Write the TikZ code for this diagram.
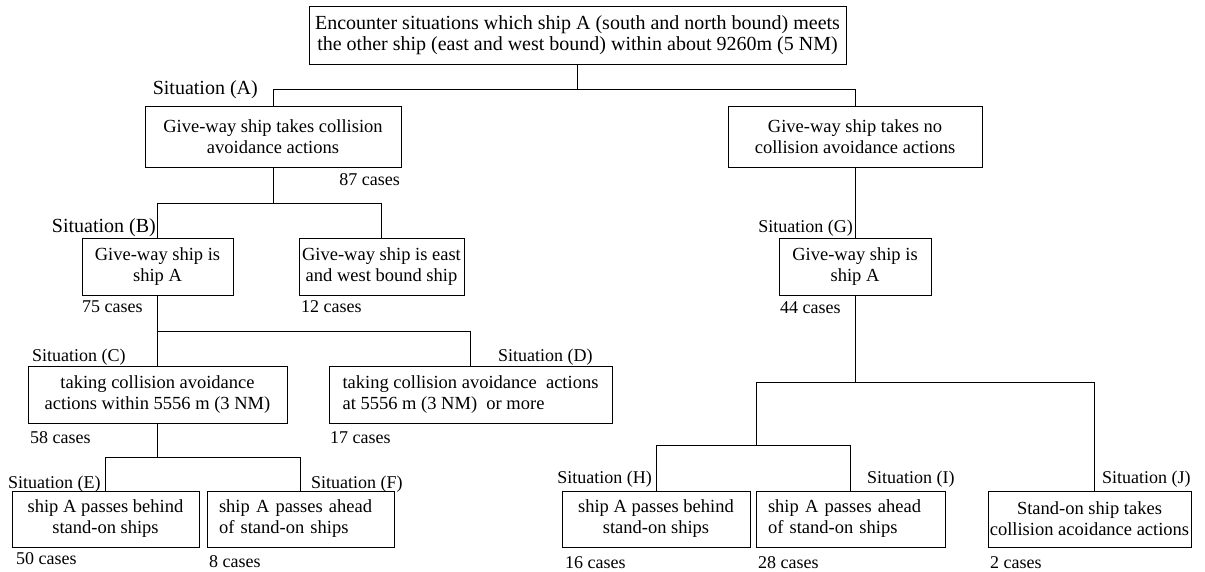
\documentclass[tikz,border=0pt]{standalone}
\usepackage{fontspec}
\setmainfont{Liberation Serif}
\begin{document}
\begin{tikzpicture}[x=1pt,y=-1pt,
  box/.style={draw, line width=0.9pt, inner sep=0pt, align=center, font=\fontsize{18.5}{21}\selectfont},
  lbox/.style={box, align=left, inner xsep=12pt, inner ysep=0pt},
  lab/.style={inner sep=0pt, font=\fontsize{18}{21}\selectfont},
  biglab/.style={lab, font=\fontsize{20}{21}\selectfont},
  conn/.style={line width=0.9pt}]
\useasboundingbox (0,0) rectangle (1205,572);

% boxes
\node[box, font=\fontsize{20}{21.5}\selectfont, minimum width=537pt, minimum height=58pt] (top) at (577.5,35)
  {Encounter situations which ship A (south and north bound) meets\\the other ship (east and west bound) within about 9260m (5 NM)};
\node[box, minimum width=256pt, minimum height=61pt] (A1) at (273,136.5) {Give-way ship takes collision\\avoidance actions};
\node[box, minimum width=254pt, minimum height=61pt] (A2) at (855,136.5) {Give-way ship takes no\\collision avoidance actions};
\node[box, minimum width=151pt, minimum height=57pt] (B1) at (157.5,266.5) {Give-way ship is\\ship A};
\node[box, minimum width=165pt, minimum height=57pt] (B2) at (381.5,266.5) {Give-way ship is east\\and west bound ship};
\node[box, minimum width=259pt, minimum height=57pt] (C) at (157.5,394.5) {taking collision avoidance\\actions within 5556 m (3 NM)};
\node[box, align=left, minimum width=283pt, minimum height=57pt] (D) at (470.5,394.5) {taking collision avoidance~ actions\\at 5556 m (3 NM)~ or more};
\node[box, minimum width=187pt, minimum height=56pt] (E) at (105.5,519) {ship A passes behind\\stand-on ships};
\node[lbox, text width=163pt, minimum height=56pt] (F) at (300.5,519) {ship A passes ahead\\of stand-on ships};
\node[box, minimum width=152pt, minimum height=57pt] (G) at (855,266.5) {Give-way ship is\\ship A};
\node[box, minimum width=188pt, minimum height=56pt] (H) at (656,519) {ship A passes behind\\stand-on ships};
\node[lbox, text width=165pt, minimum height=56pt] (I) at (850.5,519) {ship A passes ahead\\of stand-on ships};
\node[box, minimum width=203pt, minimum height=56pt] (J) at (1089.5,519) {Stand-on ship takes\\collision acoidance actions};

% connectors
\coordinate (jA) at (577.5,89);
\draw[conn] (top.south) -- (jA);
\draw[conn] (A1.north) -- (A1.north |- jA) -- (A2.north |- jA) -- (A2.north);

\coordinate (jB) at (273,203);
\draw[conn] (A1.south) -- (jB);
\draw[conn] (B1.north) -- (B1.north |- jB) -- (B2.north |- jB) -- (B2.north);

\coordinate (jC) at (157.5,331);
\draw[conn] (B1.south) -- (C.north);
\draw[conn] (jC) -- (D.north |- jC) -- (D.north);

\coordinate (jE) at (157.5,457);
\draw[conn] (C.south) -- (jE);
\draw[conn] (E.north) -- (E.north |- jE) -- (F.north |- jE) -- (F.north);

\draw[conn] (A2.south) -- (G.north);
\coordinate (jG) at (855,382);
\draw[conn] (G.south) -- (jG);
\coordinate (jH) at (756,445);
\draw[conn] (jH) -- (jH |- jG) -- ([xshift=4.5pt]J.north |- jG) -- ([xshift=4.5pt]J.north);
\draw[conn] (H.north) -- (H.north |- jH) -- (I.north |- jH) -- (I.north);

% labels
\node[biglab, anchor=base east] (sA) at (258,95) {Situation (A)};
\node[lab, anchor=base east] (cA) at (400,186) {87 cases};
\node[biglab, anchor=base east] (sB) at (156,233) {Situation (B)};
\node[lab, anchor=base west] (cB1) at (82,312) {75 cases};
\node[lab, anchor=base west] (cB2) at (301,312) {12 cases};
\node[lab, anchor=base west] (sC) at (32,361) {Situation (C)};
\node[lab, anchor=base west] (sD) at (498,361) {Situation (D)};
\node[lab, anchor=base west] (cC) at (30,443) {58 cases};
\node[lab, anchor=base west] (cD) at (330,443) {17 cases};
\node[lab, anchor=base west] (sE) at (8,488) {Situation (E)};
\node[lab, anchor=base west] (sF) at (311,488) {Situation (F)};
\node[lab, anchor=base west] (cE) at (16,564) {50 cases};
\node[lab, anchor=base west] (cF) at (209,567) {8 cases};
\node[lab, anchor=base east] (sG) at (853,233) {Situation (G)};
\node[lab, anchor=base west] (cG) at (780,313) {44 cases};
\node[lab, anchor=base east] (sH) at (652,483) {Situation (H)};
\node[lab, anchor=base west] (sI) at (867,483) {Situation (I)};
\node[lab, anchor=base west] (sJ) at (1102,483) {Situation (J)};
\node[lab, anchor=base west] (cH) at (565,568) {16 cases};
\node[lab, anchor=base west] (cI) at (758,568) {28 cases};
\node[lab, anchor=base west] (cJ) at (990,568) {2 cases};
\end{tikzpicture}
\end{document}
